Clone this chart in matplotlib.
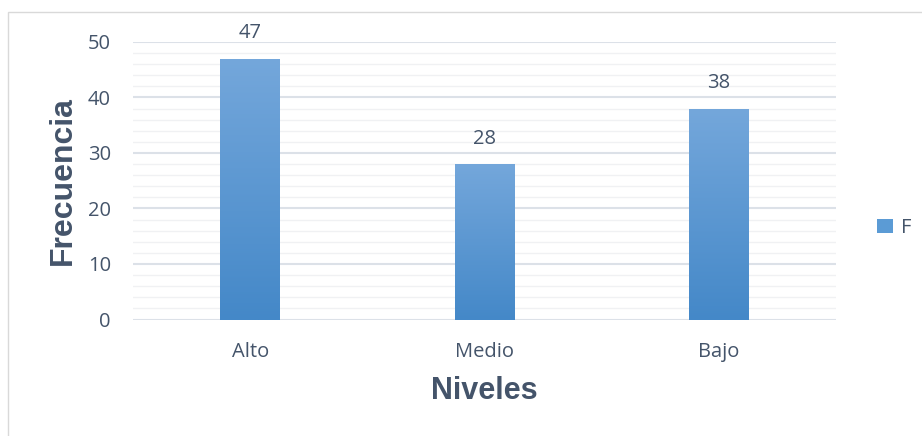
import matplotlib
matplotlib.use("Agg")
import matplotlib.pyplot as plt
import numpy as np
from matplotlib.patches import Rectangle
from matplotlib.colors import LinearSegmentedColormap
from matplotlib.ticker import MultipleLocator

categories = ["Alto", "Medio", "Bajo"]
values = [47, 28, 38]
series_name = "F"
y_ticks = [0, 10, 20, 30, 40, 50]

text_color = "#44546A"
top_c = "#74A7DB"
bot_c = "#4488C8"
cmap = LinearSegmentedColormap.from_list("g", [bot_c, top_c])

fig = plt.figure(figsize=(9.22, 4.36), dpi=100)
ax = fig.add_axes([0.1443, 0.2672, 0.7624, 0.6365])

# figure border
fig.patches.append(Rectangle((8/922, -0.1), 1.2, (436-12)/436 + 0.1,
                             transform=fig.transFigure, fill=False,
                             edgecolor="#D9D9D9", linewidth=1.0, zorder=0))

x = np.arange(len(categories))
width = 0.256
bars = ax.bar(x, values, width=width, color="none", edgecolor="none", zorder=3)
grad = np.linspace(0, 1, 256).reshape(-1, 1)
for b in bars:
    bx, by = b.get_x(), b.get_y()
    w, h = b.get_width(), b.get_height()
    im = ax.imshow(grad, cmap=cmap, origin="lower", aspect="auto",
                   extent=[bx, bx + w, by, by + h], zorder=3)
    im.set_clip_path(b)

ax.set_xlim(-0.5, len(categories) - 0.5)
ax.set_ylim(0, 50)
ax.set_yticks(y_ticks)
ax.yaxis.set_minor_locator(MultipleLocator(2))
ax.grid(axis="y", which="major", color="#DCE1E8", linewidth=1.5, zorder=0)
ax.grid(axis="y", which="minor", color="#F0F1F3", linewidth=1.0, zorder=0)
ax.set_axisbelow(True)
for s in ax.spines.values():
    s.set_visible(False)
ax.tick_params(axis="both", which="both", length=0)
ax.tick_params(axis="y", pad=16)
ax.tick_params(axis="x", pad=16)
ax.set_xticks(x)
ax.set_xticklabels(categories)
for lab in ax.get_xticklabels() + ax.get_yticklabels():
    lab.set_fontfamily("Open Sans")
    lab.set_fontsize(14.5)
    lab.set_color(text_color)

for xi, v in zip(x, values):
    ax.annotate(str(v), (xi, v), xytext=(0, 11), textcoords="offset points",
                ha="center", va="bottom", fontsize=14.5, family="Open Sans",
                color=text_color)

ax.set_xlabel("Niveles", fontsize=22, fontweight="bold", family="Liberation Sans",
              color=text_color, labelpad=10)
ax.set_ylabel("Frecuencia", fontsize=23, fontweight="bold", family="Liberation Sans",
              color=text_color, labelpad=7)

handles = [Rectangle((0, 0), 1, 1, facecolor="#5B9BD5", edgecolor="none")]
leg = fig.legend(handles, [series_name], loc="center left",
                 bbox_to_anchor=(0.932, 0.477), frameon=False,
                 handlelength=0.75, handleheight=0.75, handletextpad=0.4,
                 prop={"family": "Open Sans", "size": 14.5})
for t in leg.get_texts():
    t.set_color(text_color)

fig.savefig("out.png", dpi=100)
